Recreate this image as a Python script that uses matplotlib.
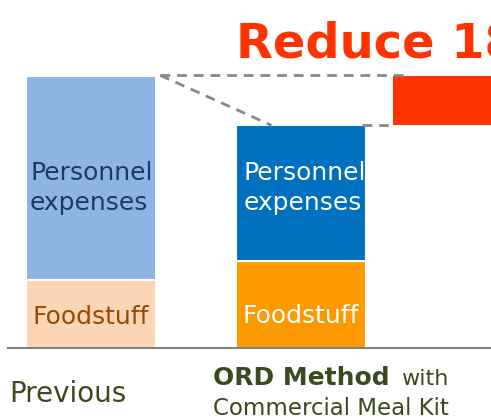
import numpy as np
from matplotlib import pyplot as plt

categories = ["Previous", "ORD Method with\nCommercial Meal Kit"]
foodstuff = [25, 32]
personnel = [75, 50]
reduction = 18
title = "Reduce 18%"

fig = plt.figure(figsize=(4.91, 4.18), dpi=100)
ax = fig.add_axes([0, 0, 1, 1])
ax.set_xlim(-0.433, 1.905)
ax.set_ylim(-25.6, 128.1)
ax.axis("off")

x = np.arange(len(categories))
w = 0.62
ax.bar(x, foodstuff, w, color=["#fbd5b5", "#ff9900"], edgecolor="white", linewidth=1.5)
ax.bar(x, personnel, w, bottom=foodstuff, color=["#8eb4e3", "#0070c0"],
       edgecolor="white", linewidth=1.5)

total0 = foodstuff[0] + personnel[0]
total1 = foodstuff[1] + personnel[1]
xr = 1.75
ax.bar([xr], [reduction], w, bottom=total1, color="#ff3300", linewidth=0)

# dashed guides
dash = dict(color="#888888", lw=2, ls=(0, (3.5, 2.5)))
x0r = x[0] + w / 2 + 0.02
ax.plot([x0r, xr - w / 2 + 0.06], [total0 + 0.4, total0 + 0.4], **dash)
ax.plot([x0r, x[1] - w / 2 + 0.17], [total0 + 0.4, total1], **dash)
ax.plot([x[1] + w / 2 - 0.02, xr - w / 2], [total1, total1], **dash)

ax.axhline(0, xmin=0.016, xmax=1, color="#808080", lw=1.5)

# labels in bars
fs = 18
ax.text(x[0] - w / 2 + 0.02, 59, "Personnel\nexpenses",
        ha="left", va="center", fontsize=fs, color="#1f3864", linespacing=1.3)
ax.text(x[1] - w / 2 + 0.035, 59, "Personnel\nexpenses",
        ha="left", va="center", fontsize=fs, color="white", linespacing=1.3)
ax.text(x[0], foodstuff[0] / 2 - 1, "Foodstuff", ha="center", va="center",
        fontsize=fs, color="#984807")
ax.text(x[1], foodstuff[1] / 2 - 4.2, "Foodstuff", ha="center", va="center",
        fontsize=fs, color="white")

# category labels
green = "#3b4a1e"
ax.text(x[0] - 0.39, -19.7, categories[0], ha="left", va="baseline", fontsize=20, color=green)
ax.text(x[1] - 0.42, -13.3, "ORD Method", ha="left", va="baseline", fontsize=18,
        fontweight="bold", color=green)
ax.text(x[1] + 0.475, -13.3, "with", ha="left", va="baseline", fontsize=16, color=green)
ax.text(x[1] - 0.42, -24.5, "Commercial Meal Kit", ha="left", va="baseline",
        fontsize=16.5, color=green)

ax.text(x[1] - w / 2, 107.1, title, ha="left", va="baseline", fontsize=34.5,
        fontweight="bold", color="#ff3300")

fig.savefig("out.png", dpi=100)
